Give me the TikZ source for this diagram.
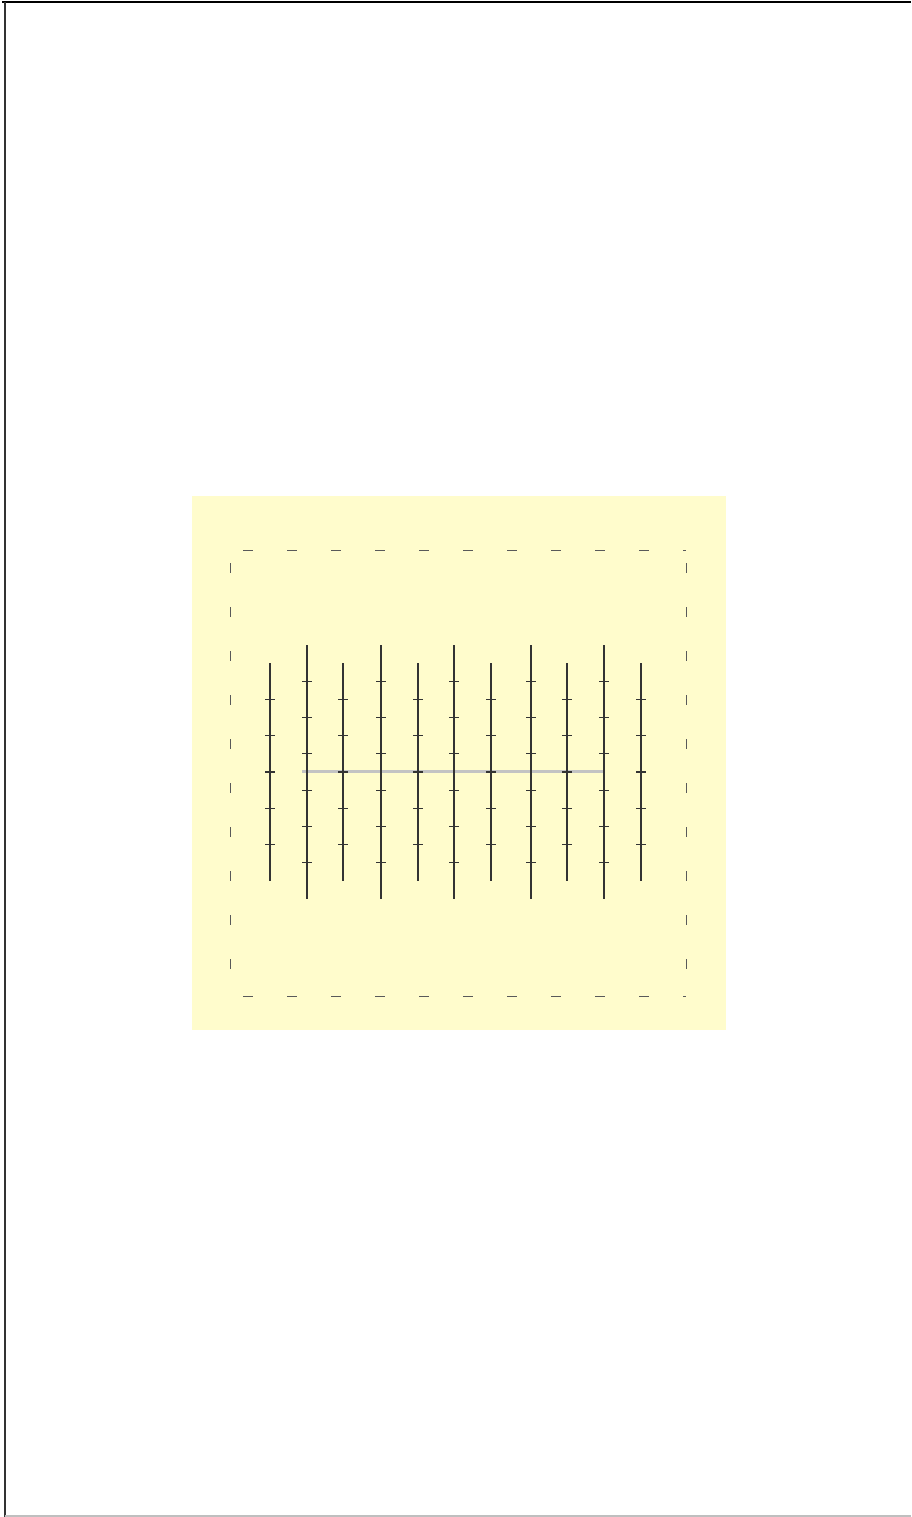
\documentclass[tikz,border=0pt]{standalone}
\usetikzlibrary{positioning}
\definecolor{paleyellow}{RGB}{255,252,204}
\definecolor{railgray}{RGB}{195,195,195}

\begin{document}
\begin{tikzpicture}[x=1pt,y=-1pt]
\tikzstyle{rod}=[line width=1.1pt,draw=black!80]
\tikzstyle{notch}=[line width=1.1pt,draw=black!80]
\tikzstyle{fence}=[line width=1pt,draw=black!65,dash pattern=on 10pt off 34pt,dash phase=31pt]
\useasboundingbox (0,0) rectangle (911,1517);
% page frame
\draw[line width=1.2pt,black] (2,2) -- (911,2);
\draw[line width=2pt,black!80] (5,2) -- (5,1517);
\draw[line width=1.5pt,black!25] (5,1516) -- (911,1516);
% panel
\fill[paleyellow] (192,496) rectangle (726,1030);
\draw[fence] (230,550) -- (686,550);
\draw[fence] (230,996) -- (686,996);
\draw[fence] (230,550) -- (230,996);
\draw[fence] (686,550) -- (686,996);
% gray bar
\draw[line width=3pt,railgray] (302,771) -- (605,771);
% short rods
\foreach \x in {270,343,418,491,567,641} {
  \draw[rod] (\x,663.4) -- (\x,880.6);
  \foreach \k in {-2,...,2}
    \draw[notch] (\x-5,772+36.2*\k) -- (\x+5,772+36.2*\k);
}
% long rods
\foreach \x in {307,381,454,531,604} {
  \draw[rod] (\x,645.3) -- (\x,898.7);
  \foreach \k in {-2.5,-1.5,...,2.5}
    \draw[notch] (\x-5,772+36.2*\k) -- (\x+5,772+36.2*\k);
}
\end{tikzpicture}
\end{document}
